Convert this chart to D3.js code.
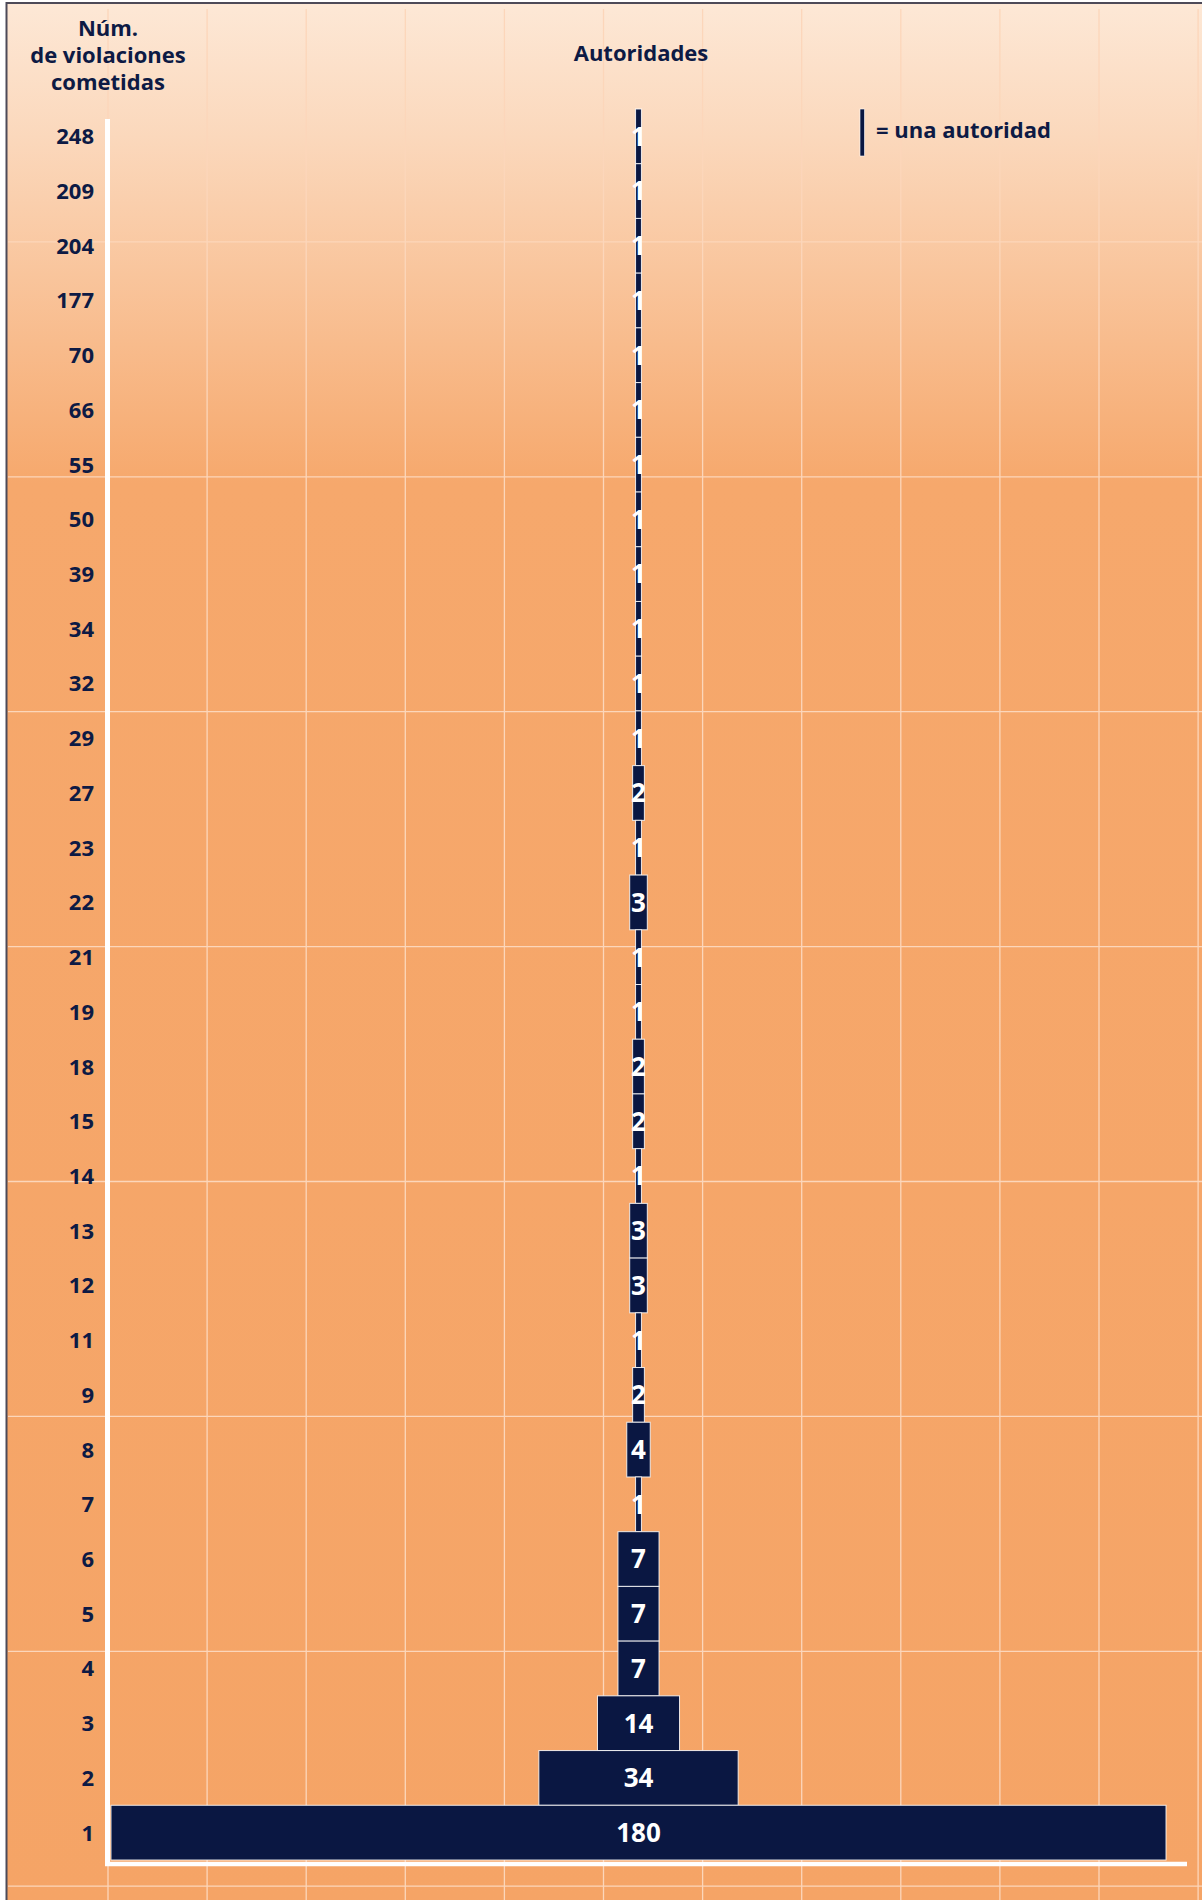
<!DOCTYPE html>
<html>
<head>
<meta charset="utf-8">
<script src="https://cdn.jsdelivr.net/npm/d3@7"></script>
<style>
  html, body { margin: 0; padding: 0; background: #ffffff; }
  svg { display: block; }
  text { font-family: "Open Sans", "Noto Sans", sans-serif; font-weight: 700; }
</style>
</head>
<body>
<svg id="chart" width="1202" height="1900"></svg>
<script>
// ---- data ----
const violaciones = ["248","209","204","177","70","66","55","50","39","34","32","29","27","23","22","21","19","18","15","14","13","12","11","9","8","7","6","5","4","3","2","1"];
const autoridades = [1,1,1,1,1,1,1,1,1,1,1,1,2,1,3,1,1,2,2,1,3,3,1,2,4,1,7,7,7,14,34,180];
const yTitleLines = ["Núm.", "de violaciones", "cometidas"];
const xTitle = "Autoridades";
const legendText = "= una autoridad";

const W = 1202, H = 1900;
const navy = "#0a1742";
const textNavy = "#0d1a44";
const svg = d3.select("#chart");

// background gradient
const defs = svg.append("defs");
const grad = defs.append("linearGradient").attr("id", "bg").attr("x1", 0).attr("y1", 0).attr("x2", 0).attr("y2", 1);
grad.append("stop").attr("offset", 0).attr("stop-color", "#fde8d6");
grad.append("stop").attr("offset", 0.07).attr("stop-color", "#fbd8bc");
grad.append("stop").attr("offset", 0.253).attr("stop-color", "#f6a86c");
grad.append("stop").attr("offset", 1).attr("stop-color", "#f5a466");

svg.append("rect").attr("x", 7).attr("y", 3).attr("width", W).attr("height", H).attr("fill", "url(#bg)");
// frame lines (left & top)
svg.append("line").attr("x1", 6.5).attr("x2", 6.5).attr("y1", 2).attr("y2", H).attr("stroke", "#4d4a58").attr("stroke-width", 2);
svg.append("line").attr("x1", 6).attr("x2", W).attr("y1", 3).attr("y2", 3).attr("stroke", "#4d4a58").attr("stroke-width", 2);

// decorative background grid
const gridG = svg.append("g").attr("stroke", "#fcd6ba").attr("stroke-width", 1.3);
d3.range(0, 12).forEach(i => {
  const gx = 108 + i * 99.1;
  gridG.append("line").attr("x1", gx).attr("x2", gx).attr("y1", 9).attr("y2", H);
});
d3.range(1, 9).forEach(j => {
  const gy = 7 + j * 234.9;
  gridG.append("line").attr("x1", 8).attr("x2", W).attr("y1", gy).attr("y2", gy);
});

// scales
const y = d3.scaleBand().domain(violaciones).range([109, 1860]).padding(0);
const x = d3.scaleLinear().domain([-90, 90]).range([111, 1166]);

// bars
const rows = violaciones.map((v, i) => ({ label: v, n: autoridades[i] }));
svg.append("g").selectAll("rect").data(rows).join("rect")
  .attr("x", d => x(-d.n / 2))
  .attr("width", d => x(d.n / 2) - x(-d.n / 2))
  .attr("y", d => y(d.label))
  .attr("height", y.bandwidth())
  .attr("fill", navy)
  .attr("stroke", "#ffffff")
  .attr("stroke-opacity", 0.85)
  .attr("stroke-width", 1);

// bar labels
svg.append("g").selectAll("text").data(rows).join("text")
  .attr("x", x(0))
  .attr("y", d => y(d.label) + y.bandwidth() / 2)
  .attr("dy", "0.36em")
  .attr("text-anchor", "middle")
  .attr("fill", "#ffffff")
  .attr("font-size", 26)
  .text(d => d.n);

// y axis labels
const yAxis = d3.axisLeft(y).tickSize(0).tickPadding(0);
const yg = svg.append("g").attr("transform", "translate(94,0)").call(yAxis);
yg.select(".domain").remove();
yg.selectAll("text")
  .attr("fill", textNavy)
  .attr("font-size", 22)
  .attr("font-family", "'Open Sans', 'Noto Sans', sans-serif")
  .attr("font-weight", 700)
  .attr("dy", "0.36em");

// axis lines (white)
svg.append("line").attr("x1", 107.5).attr("x2", 107.5).attr("y1", 119).attr("y2", 1866)
  .attr("stroke", "#ffffff").attr("stroke-width", 5);
svg.append("line").attr("x1", 105).attr("x2", 1187).attr("y1", 1864).attr("y2", 1864)
  .attr("stroke", "#ffffff").attr("stroke-width", 4.5);

// titles
svg.append("text").attr("x", 108).attr("y", 28).attr("text-anchor", "middle")
  .attr("fill", textNavy).attr("font-size", 22)
  .selectAll("tspan").data(yTitleLines).join("tspan")
  .attr("x", 108).attr("dy", (d, i) => i === 0 ? "0.36em" : 27)
  .text(d => d);

svg.append("text").attr("x", 641).attr("y", 53).attr("dy", "0.36em").attr("text-anchor", "middle")
  .attr("fill", textNavy).attr("font-size", 22).text(xTitle);

// legend
svg.append("rect").attr("x", 860).attr("y", 109).attr("width", 4.5).attr("height", 47)
  .attr("fill", navy).attr("stroke", "#ffffff").attr("stroke-width", 0.6);
svg.append("text").attr("x", 876).attr("y", 130).attr("dy", "0.36em")
  .attr("fill", textNavy).attr("font-size", 22).text(legendText);
</script>
</body>
</html>
